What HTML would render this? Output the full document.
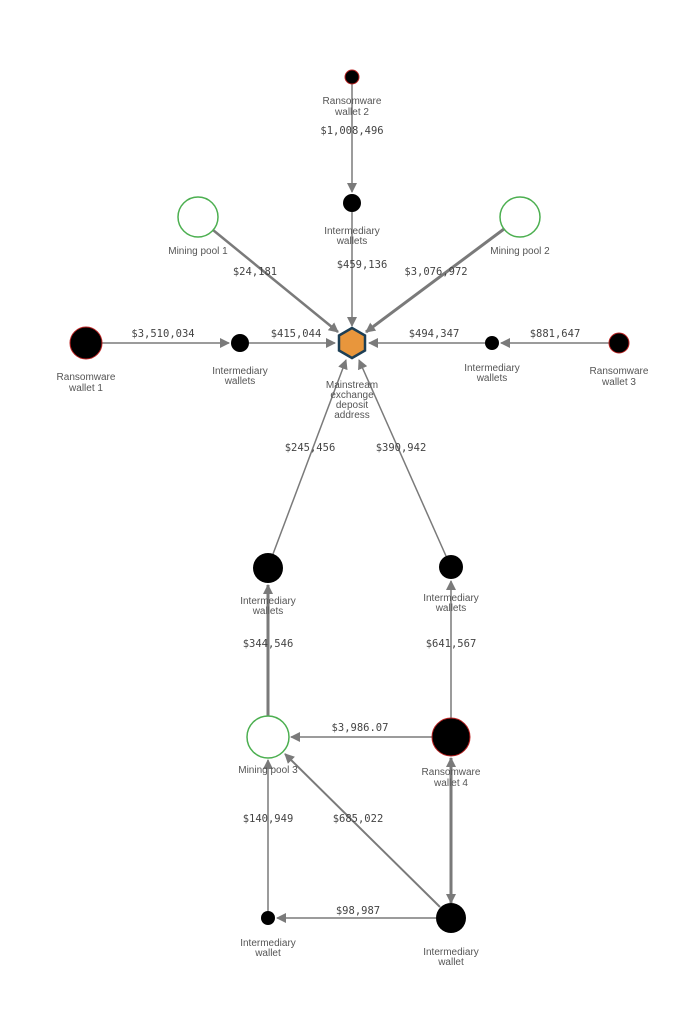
<!DOCTYPE html>
<html><head><meta charset="utf-8"><style>
html,body{margin:0;padding:0;background:#fff;}
svg{display:block;}
.l{font-family:"DejaVu Sans Mono","Liberation Mono",monospace;font-size:10.5px;fill:#444;text-anchor:middle;}
.n{font-family:"Liberation Sans",sans-serif;font-size:10px;fill:#555;text-anchor:middle;}
line{stroke:#7a7a7a;stroke-width:1.5;}
</style></head><body>
<svg width="699" height="1024" viewBox="0 0 699 1024" xmlns="http://www.w3.org/2000/svg">
<defs>
<marker id="a" viewBox="0 0 10 10" refX="9" refY="5" markerWidth="7" markerHeight="7" markerUnits="userSpaceOnUse" orient="auto"><path d="M0,0L10,5L0,10z" fill="#7a7a7a"/></marker>
<marker id="b" viewBox="0 0 10 10" refX="9" refY="5" markerWidth="10" markerHeight="10" markerUnits="userSpaceOnUse" orient="auto-start-reverse"><path d="M0,0L10,5L0,10z" fill="#7a7a7a"/></marker>
</defs>
<g marker-end="url(#b)">
<line x1="352" y1="84" x2="352" y2="192"/>
<line x1="352" y1="212" x2="352" y2="326"/>
<line x1="213" y1="230" x2="338" y2="332" style="stroke-width:2.5"/>
<line x1="504" y1="229" x2="366" y2="332" style="stroke-width:3"/>
<line x1="102" y1="343" x2="229" y2="343"/>
<line x1="249" y1="343" x2="335" y2="343"/>
<line x1="609" y1="343" x2="501" y2="343"/>
<line x1="485" y1="343" x2="369" y2="343"/>
<line x1="273" y1="554" x2="346" y2="360"/>
<line x1="446" y1="556" x2="359" y2="360"/>
<line x1="268" y1="716" x2="268" y2="585" style="stroke-width:3"/>
<line x1="451" y1="718" x2="451" y2="581"/>
<line x1="432" y1="737" x2="291" y2="737"/>
<line x1="440" y1="907" x2="285" y2="754" style="stroke-width:2"/>
<line x1="436" y1="918" x2="277" y2="918"/>
<line x1="268" y1="911" x2="268" y2="760"/>
</g>
<line x1="451" y1="903" x2="451" y2="758" style="stroke-width:3" marker-start="url(#b)" marker-end="url(#b)"/>

<circle cx="352" cy="77" r="7" fill="#000" stroke="#b22" stroke-width="1"/>
<circle cx="352" cy="203" r="9" fill="#000"/>
<circle cx="198" cy="217" r="20" fill="#fff" stroke="#4caf50" stroke-width="1.5"/>
<circle cx="520" cy="217" r="20" fill="#fff" stroke="#4caf50" stroke-width="1.5"/>
<circle cx="86" cy="343" r="16" fill="#000" stroke="#b22" stroke-width="1"/>
<circle cx="240" cy="343" r="9" fill="#000"/>
<circle cx="492" cy="343" r="7" fill="#000"/>
<circle cx="619" cy="343" r="10" fill="#000" stroke="#b22" stroke-width="1"/>
<polygon points="352,328 365,335.5 365,350.5 352,358 339,350.5 339,335.5" fill="#e8963c" stroke="#1d3f55" stroke-width="2.5"/>
<circle cx="268" cy="568" r="15" fill="#000"/>
<circle cx="451" cy="567" r="12" fill="#000"/>
<circle cx="268" cy="737" r="21" fill="#fff" stroke="#4caf50" stroke-width="1.5"/>
<circle cx="451" cy="737" r="19" fill="#000" stroke="#b22" stroke-width="1"/>
<circle cx="268" cy="918" r="7" fill="#000"/>
<circle cx="451" cy="918" r="15" fill="#000"/>

<text class="l" x="352" y="134">$1,008,496</text>
<text class="l" x="362" y="268">$459,136</text>
<text class="l" x="255" y="275">$24,181</text>
<text class="l" x="436" y="275">$3,076,972</text>
<text class="l" x="163" y="337">$3,510,034</text>
<text class="l" x="296" y="337">$415,044</text>
<text class="l" x="555" y="337">$881,647</text>
<text class="l" x="434" y="337">$494,347</text>
<text class="l" x="310" y="451">$245,456</text>
<text class="l" x="401" y="451">$390,942</text>
<text class="l" x="268" y="647">$344,546</text>
<text class="l" x="451" y="647">$641,567</text>
<text class="l" x="360" y="731">$3,986.07</text>
<text class="l" x="358" y="822">$685,022</text>
<text class="l" x="268" y="822">$140,949</text>
<text class="l" x="358" y="914">$98,987</text>

<text class="n" x="352" y="104">Ransomware</text><text class="n" x="352" y="115">wallet 2</text>
<text class="n" x="352" y="234">Intermediary</text><text class="n" x="352" y="244">wallets</text>
<text class="n" x="198" y="254">Mining pool 1</text>
<text class="n" x="520" y="254">Mining pool 2</text>
<text class="n" x="86" y="380">Ransomware</text><text class="n" x="86" y="391">wallet 1</text>
<text class="n" x="240" y="374">Intermediary</text><text class="n" x="240" y="384">wallets</text>
<text class="n" x="492" y="371">Intermediary</text><text class="n" x="492" y="381">wallets</text>
<text class="n" x="619" y="374">Ransomware</text><text class="n" x="619" y="385">wallet 3</text>
<text class="n" x="352" y="388">Mainstream</text><text class="n" x="352" y="398">exchange</text><text class="n" x="352" y="408">deposit</text><text class="n" x="352" y="418">address</text>
<text class="n" x="268" y="604">Intermediary</text><text class="n" x="268" y="614">wallets</text>
<text class="n" x="451" y="601">Intermediary</text><text class="n" x="451" y="611">wallets</text>
<text class="n" x="268" y="773">Mining pool 3</text>
<text class="n" x="451" y="775">Ransomware</text><text class="n" x="451" y="786">wallet 4</text>
<text class="n" x="268" y="946">Intermediary</text><text class="n" x="268" y="956">wallet</text>
<text class="n" x="451" y="955">Intermediary</text><text class="n" x="451" y="965">wallet</text>
</svg>
</body></html>
